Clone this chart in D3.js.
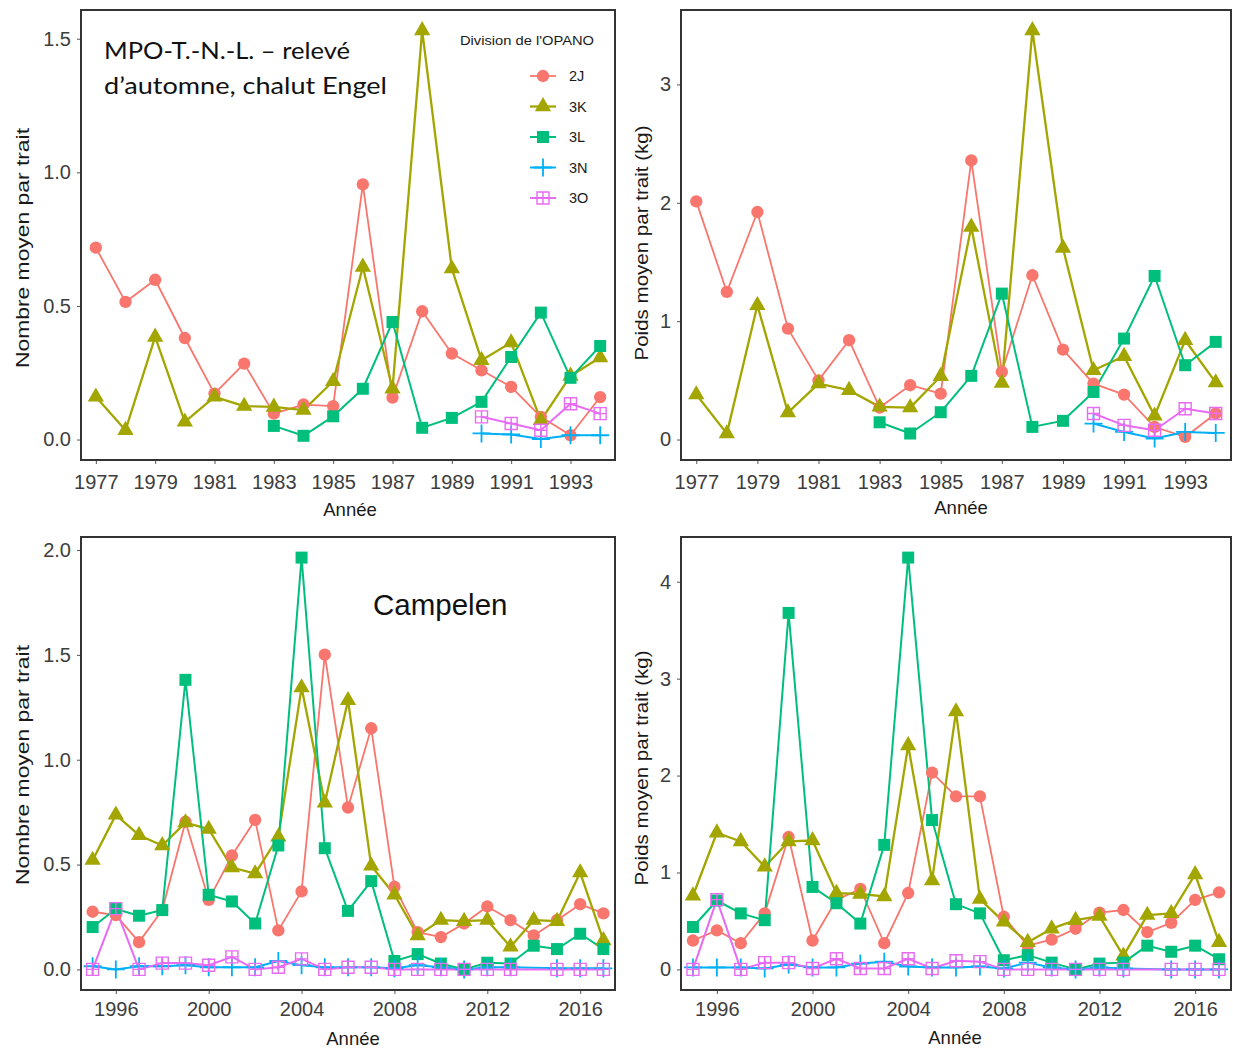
<!DOCTYPE html>
<html lang="fr">
<head>
<meta charset="utf-8">
<title>Relevés d'automne – divisions de l'OPANO</title>
<script src="https://cdn.jsdelivr.net/npm/d3@7/dist/d3.min.js"></script>
<style>
  html, body { margin: 0; padding: 0; background: #fff; }
  svg { display: block; }
  .tick-label { font-family: "Liberation Sans", Arial, sans-serif; font-size: 20px; fill: #3d3d3d; }
  .axis-title { font-family: "Liberation Sans", Arial, sans-serif; font-size: 18.5px; fill: #1a1a1a; }
</style>
</head>
<body>
<svg id="chart" width="1233" height="1048"></svg>
<script>
// Divisions de l'OPANO et couleurs
const divisions = ["2J", "3K", "3L", "3N", "3O"];
const divisionColors = ["#F8766D", "#A3A500", "#00BF7D", "#00B0F6", "#E76BF3"];

// Chalut Engel, 1977–1994
const engelYears = [1977,1978,1979,1980,1981,1982,1983,1984,1985,1986,1987,1988,1989,1990,1991,1992,1993,1994];
const engelYearTicks = [1977,1979,1981,1983,1985,1987,1989,1991,1993];

// Nombre moyen par trait (Engel)
const engelCount2J = [0.718,0.515,0.598,0.380,0.172,0.284,0.097,0.131,0.125,0.955,0.157,0.480,0.322,0.259,0.197,0.085,0.016,0.159];
const engelCount3K = [0.160,0.035,0.384,0.066,0.160,0.125,0.122,0.110,0.218,0.646,0.190,1.531,0.640,0.297,0.363,0.072,0.238,0.307];
const engelCount3L = [null,null,null,null,null,null,0.051,0.014,0.087,0.190,0.440,0.044,0.081,0.141,0.309,0.475,0.231,0.350];
const engelCount3N = [null,null,null,null,null,null,null,null,null,null,null,null,null,0.023,0.019,0.002,0.016,0.016];
const engelCount3O = [null,null,null,null,null,null,null,null,null,null,null,null,null,0.085,0.060,0.035,0.134,0.097];
const engelCountTicks = [0, 0.5, 1.0, 1.5];

// Poids moyen par trait, kg (Engel)
const engelWeight2J = [2.012,1.247,1.922,0.937,0.500,0.839,0.270,0.459,0.388,2.358,0.571,1.388,0.760,0.473,0.380,0.106,0.022,0.220];
const engelWeight3K = [0.380,0.050,1.134,0.228,0.473,0.417,0.276,0.270,0.535,1.796,0.478,3.456,1.618,0.585,0.704,0.200,0.839,0.481];
const engelWeight3L = [null,null,null,null,null,null,0.146,0.051,0.231,0.538,1.233,0.107,0.158,0.402,0.853,1.382,0.628,0.825];
const engelWeight3N = [null,null,null,null,null,null,null,null,null,null,null,null,null,0.135,0.064,0.008,0.064,0.056];
const engelWeight3O = [null,null,null,null,null,null,null,null,null,null,null,null,null,0.220,0.120,0.079,0.260,0.220];
const engelWeightTicks = [0, 1, 2, 3];

// Chalut Campelen, 1995–2017
const campelenYears = [1995,1996,1997,1998,1999,2000,2001,2002,2003,2004,2005,2006,2007,2008,2009,2010,2011,2012,2013,2014,2015,2016,2017];
const campelenYearTicks = [1996,2000,2004,2008,2012,2016];

// Nombre moyen par trait (Campelen)
const campelenCount2J = [0.275,0.259,0.130,0.283,0.704,0.332,0.543,0.713,0.186,0.372,1.501,0.772,1.150,0.394,0.178,0.154,0.219,0.300,0.235,0.162,0.235,0.311,0.267];
const campelenCount3K = [0.521,0.737,0.640,0.591,0.700,0.669,0.486,0.457,0.632,1.344,0.794,1.283,0.494,0.356,0.162,0.235,0.230,0.235,0.108,0.235,0.230,0.462,0.138];
const campelenCount3L = [0.202,0.288,0.256,0.283,1.381,0.356,0.324,0.219,0.591,1.964,0.578,0.279,0.421,0.040,0.073,0.028,0.000,0.032,0.028,0.113,0.097,0.170,0.097];
const campelenCount3N = [0.015,0.000,0.015,0.015,0.020,0.010,0.010,0.010,0.040,0.020,0.010,0.010,0.010,0.005,0.020,0.010,0.000,0.010,0.010,null,0.005,0.005,0.005];
const campelenCount3O = [0.000,0.290,0.000,0.030,0.030,0.020,0.060,0.000,0.010,0.050,0.000,0.010,0.010,0.000,0.000,0.000,0.000,0.000,0.000,null,0.000,0.000,0.000];
const campelenCountTicks = [0, 0.5, 1.0, 1.5, 2.0];

// Poids moyen par trait, kg (Campelen)
const campelenWeight2J = [0.298,0.403,0.270,0.578,1.366,0.298,0.718,0.830,0.270,0.788,2.030,1.786,1.786,0.543,0.245,0.308,0.420,0.585,0.613,0.385,0.480,0.718,0.795];
const campelenWeight3K = [0.760,1.410,1.320,1.060,1.320,1.330,0.788,0.778,0.753,2.310,0.918,2.660,0.725,0.490,0.280,0.420,0.508,0.550,0.140,0.560,0.578,0.980,0.280];
const campelenWeight3L = [0.438,0.711,0.578,0.508,3.678,0.851,0.683,0.473,1.285,4.249,1.541,0.673,0.578,0.095,0.147,0.070,0.000,0.060,0.070,0.245,0.182,0.245,0.105];
const campelenWeight3N = [0.020,0.020,0.020,0.010,0.050,0.020,0.020,0.060,0.080,0.030,0.020,0.020,0.030,0.010,0.070,0.020,0.000,0.020,0.010,null,0.000,0.000,0.000];
const campelenWeight3O = [0.000,0.720,0.000,0.070,0.070,0.010,0.110,0.010,0.010,0.110,0.010,0.090,0.080,0.000,0.000,0.000,0.000,0.000,0.000,null,0.000,0.000,0.000];
const campelenWeightTicks = [0, 1, 2, 3, 4];

// Panneaux : données + emplacement
const panels = [
  { years: engelYears, xTicks: engelYearTicks, yTicks: engelCountTicks, yFmt: d3.format(".1f"),
    series: [engelCount2J, engelCount3K, engelCount3L, engelCount3N, engelCount3O],
    yTitle: "Nombre moyen par trait", yTitleLen: 240, box: { x0: 81, x1: 615, y0: 10, y1: 460 },
    yTitleX: 29, yTitleY: 248, xTitleX: 350, xTitleY: 516, xPad: 6 },
  { years: engelYears, xTicks: engelYearTicks, yTicks: engelWeightTicks, yFmt: d3.format("d"),
    series: [engelWeight2J, engelWeight3K, engelWeight3L, engelWeight3N, engelWeight3O],
    yTitle: "Poids moyen par trait (kg)", yTitleLen: 235, box: { x0: 681, x1: 1231, y0: 10, y1: 460 },
    yTitleX: 648, yTitleY: 243, xTitleX: 961, xTitleY: 514, xPad: 6 },
  { years: campelenYears, xTicks: campelenYearTicks, yTicks: campelenCountTicks, yFmt: d3.format(".1f"),
    series: [campelenCount2J, campelenCount3K, campelenCount3L, campelenCount3N, campelenCount3O],
    yTitle: "Nombre moyen par trait", yTitleLen: 240, box: { x0: 81, x1: 615, y0: 537, y1: 990 },
    yTitleX: 29, yTitleY: 765, xTitleX: 353, xTitleY: 1045, xPad: 3 },
  { years: campelenYears, xTicks: campelenYearTicks, yTicks: campelenWeightTicks, yFmt: d3.format("d"),
    series: [campelenWeight2J, campelenWeight3K, campelenWeight3L, campelenWeight3N, campelenWeight3O],
    yTitle: "Poids moyen par trait (kg)", yTitleLen: 235, box: { x0: 681, x1: 1231, y0: 537, y1: 990 },
    yTitleX: 648, yTitleY: 768, xTitleX: 955, xTitleY: 1044, xPad: 3 }
];

const svg = d3.select("#chart");

// Formes des points, une par division
const markerPaths = [
  d3.symbol(d3.symbolCircle, 120)(),
  d3.symbol(d3.symbolTriangle, 115)(),
  d3.symbol(d3.symbolSquare, 144)(),
  "M-9,0H9M0,-9V9",
  "M-6,-6H6V6H-6ZM-6,0H6M0,-6V6"
];
const markerFilled = [true, true, true, false, false];
const lineWidths = [1.8, 2.3, 2.0, 2.0, 2.0];

function drawMarker(g, i, x, y, color) {
  const p = g.append("path").attr("d", markerPaths[i]).attr("transform", `translate(${x},${y})`);
  if (markerFilled[i]) p.attr("fill", color).attr("stroke", "none");
  else p.attr("fill", "none").attr("stroke", color).attr("stroke-width", i === 3 ? 1.8 : 1.4);
}

panels.forEach(pn => {
  const b = pn.box;
  const first = pn.years[0], last = pn.years[pn.years.length - 1];
  const x = d3.scaleLinear().domain([first - 0.5, last + 0.5]).range([b.x0, b.x1]);
  const ymax = d3.max(pn.series.flat().filter(v => v != null));
  const y = d3.scaleLinear().domain([-0.05 * ymax, 1.05 * ymax]).range([b.y1, b.y0]);

  const g = svg.append("g");

  // Axes
  const xAxis = d3.axisBottom(x).tickValues(pn.xTicks).tickFormat(d3.format("d")).tickSize(4).tickPadding(pn.xPad);
  const yAxis = d3.axisLeft(y).tickValues(pn.yTicks).tickFormat(pn.yFmt).tickSize(4).tickPadding(6);
  const gx = g.append("g").attr("transform", `translate(0,${b.y1})`).call(xAxis);
  const gy = g.append("g").attr("transform", `translate(${b.x0},0)`).call(yAxis);
  [gx, gy].forEach(a => {
    a.select(".domain").remove();
    a.selectAll(".tick line").attr("stroke", "#555").attr("stroke-width", 1);
    a.selectAll(".tick text").attr("class", "tick-label").attr("fill", null);
  });
  gx.selectAll(".tick text").attr("dy", "0.95em");

  // Tracés (toutes les lignes, puis tous les points)
  const clipId = "clip" + b.x0 + "_" + b.y0;
  svg.append("clipPath").attr("id", clipId)
    .append("rect").attr("x", b.x0).attr("y", b.y0).attr("width", b.x1 - b.x0).attr("height", b.y1 - b.y0);
  const plot = g.append("g").attr("clip-path", `url(#${clipId})`);

  const line = d3.line().x(d => x(d[0])).y(d => y(d[1]));
  const pts = pn.series.map(s => pn.years.map((yr, k) => [yr, s[k]]).filter(d => d[1] != null));
  pts.forEach((p, i) => {
    plot.append("path").attr("d", line(p)).attr("fill", "none")
      .attr("stroke", divisionColors[i]).attr("stroke-width", lineWidths[i]).attr("stroke-linejoin", "round");
  });
  pts.forEach((p, i) => {
    p.forEach(d => drawMarker(plot, i, x(d[0]), y(d[1]), divisionColors[i]));
  });

  // Cadre du panneau
  g.append("rect").attr("x", b.x0).attr("y", b.y0).attr("width", b.x1 - b.x0).attr("height", b.y1 - b.y0)
    .attr("fill", "none").attr("stroke", "#333").attr("stroke-width", 2);

  // Titres des axes
  g.append("text").attr("class", "axis-title").attr("text-anchor", "middle")
    .attr("x", pn.xTitleX).attr("y", pn.xTitleY).text("Année");
  g.append("text").attr("class", "axis-title").attr("text-anchor", "middle")
    .attr("textLength", pn.yTitleLen).attr("lengthAdjust", "spacingAndGlyphs")
    .attr("transform", `translate(${pn.yTitleX},${pn.yTitleY}) rotate(-90)`).text(pn.yTitle);
});

// Annotations
const noteFont = "Lato, 'Open Sans', sans-serif";
svg.append("text").attr("x", 104).attr("y", 59).attr("font-family", noteFont).attr("font-size", 24)
  .attr("fill", "#111").attr("textLength", 246).attr("lengthAdjust", "spacingAndGlyphs").text("MPO-T.-N.-L. – relevé");
svg.append("text").attr("x", 104).attr("y", 94).attr("font-family", noteFont).attr("font-size", 24)
  .attr("fill", "#111").attr("textLength", 283).attr("lengthAdjust", "spacingAndGlyphs").text("d’automne, chalut Engel");
svg.append("text").attr("x", 373).attr("y", 615).attr("font-family", "'Liberation Sans', Arial, sans-serif")
  .attr("font-size", 29.5).attr("fill", "#111").text("Campelen");

// Légende
const legend = svg.append("g");
legend.append("text").attr("x", 460).attr("y", 45).attr("font-family", "'Liberation Sans', Arial, sans-serif")
  .attr("font-size", 13.5).attr("fill", "#1a1a1a").attr("textLength", 134).attr("lengthAdjust", "spacingAndGlyphs")
  .text("Division de l'OPANO");
divisions.forEach((dv, i) => {
  const cy = 76 + i * 30.5;
  legend.append("line").attr("x1", 530).attr("x2", 556).attr("y1", cy).attr("y2", cy)
    .attr("stroke", divisionColors[i]).attr("stroke-width", lineWidths[i]);
  drawMarker(legend, i, 543, cy, divisionColors[i]);
  legend.append("text").attr("x", 569).attr("y", cy + 5).attr("font-family", "'Liberation Sans', Arial, sans-serif")
    .attr("font-size", 14.5).attr("fill", "#1a1a1a").text(dv);
});
</script>
</body>
</html>
